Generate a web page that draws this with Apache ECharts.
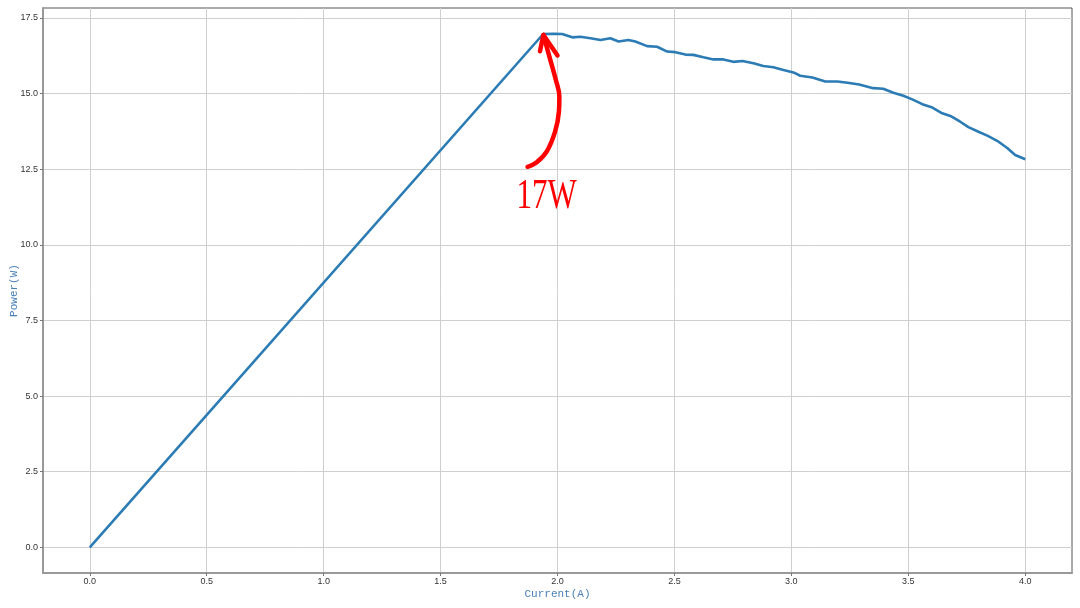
<!DOCTYPE html>
<html>
<head>
<meta charset="utf-8">
<script src="https://cdn.jsdelivr.net/npm/echarts@6/dist/echarts.min.js"></script>
<style>html,body{margin:0;padding:0;background:#fff}#c{width:1080px;height:608px}</style>
</head>
<body>
<div id="c"></div>
<script>
// Current (A)
var currentA = [0, 1.939, 1.983, 2.020, 2.063, 2.098, 2.141, 2.184, 2.226, 2.261, 2.303, 2.333, 2.383, 2.426, 2.469, 2.504, 2.547, 2.581, 2.624, 2.667, 2.709, 2.752, 2.791, 2.838, 2.880, 2.923, 2.966, 3.009, 3.038, 3.090, 3.145, 3.197, 3.240, 3.290, 3.350, 3.393, 3.436, 3.479, 3.517, 3.560, 3.603, 3.645, 3.680, 3.722, 3.757, 3.800, 3.838, 3.880, 3.923, 3.957, 4.000];
// Power (W)
var powerW = [0, 16.97, 16.98, 16.97, 16.86, 16.88, 16.83, 16.77, 16.83, 16.72, 16.77, 16.72, 16.57, 16.55, 16.39, 16.37, 16.29, 16.28, 16.20, 16.13, 16.13, 16.05, 16.08, 16.00, 15.91, 15.87, 15.78, 15.70, 15.59, 15.53, 15.40, 15.40, 15.36, 15.30, 15.18, 15.16, 15.03, 14.93, 14.81, 14.65, 14.54, 14.35, 14.26, 14.07, 13.89, 13.74, 13.61, 13.44, 13.20, 12.97, 12.83];
var xTicks = [0, 0.5, 1.0, 1.5, 2.0, 2.5, 3.0, 3.5, 4.0];
var yTicks = [0, 2.5, 5.0, 7.5, 10.0, 12.5, 15.0, 17.5];
// hand-drawn annotation arrow (data coordinates)
var arrowShaftX = [1.872, 1.910, 1.955, 1.990, 2.006, 2.008, 1.993, 1.968, 1.940];
var arrowShaftY = [12.58, 12.72, 13.10, 13.75, 14.40, 14.90, 15.45, 16.15, 16.94];
var arrowHeadX = [1.925, 1.940, 2.000];
var arrowHeadY = [16.40, 16.94, 16.26];
var annotText = '17W';
var annotPos = [1.953, 11.59];

function zip(a, b) { return a.map(function (v, i) { return [v, b[i]]; }); }

var chart = echarts.init(document.getElementById('c'));
var gridCol = '#cfcfcf';
var option = {
  animation: false,
  grid: { left: 43, right: 8, top: 8, bottom: 35, outerBoundsMode: 'none', containLabel: false,
    show: true, borderColor: '#555', borderWidth: 1 },
  xAxis: {
    type: 'value', min: -0.2, max: 4.2,
    name: 'Current(A)', nameLocation: 'middle', nameGap: 16, nameMoveOverlap: false,
    nameTextStyle: { color: '#4a7fb5', fontSize: 11, fontFamily: 'Liberation Mono' },
    axisLine: { show: true, onZero: false, lineStyle: { color: '#999', width: 2 } },
    axisTick: { show: true, length: 3, lineStyle: { color: '#777' }, customValues: xTicks },
    axisLabel: { customValues: xTicks, color: '#333', fontSize: 9, margin: 4, fontFamily: 'Liberation Sans',
      formatter: function (v) { return v.toFixed(1); } },
    splitLine: { show: true, lineStyle: { color: gridCol, width: 1 } }
  },
  yAxis: {
    type: 'value', min: -0.85, max: 17.83,
    name: 'Power(W)', nameLocation: 'middle', nameGap: 23, nameMoveOverlap: false,
    nameTextStyle: { color: '#4a7fb5', fontSize: 11, fontFamily: 'Liberation Mono' },
    axisLine: { show: true, onZero: false, lineStyle: { color: '#999', width: 2 } },
    axisTick: { show: true, length: 3, lineStyle: { color: '#777' }, customValues: yTicks },
    axisLabel: { customValues: yTicks, color: '#333', fontSize: 9, margin: 5, fontFamily: 'Liberation Sans',
      formatter: function (v) { return v.toFixed(1); } },
    splitLine: { show: true, lineStyle: { color: gridCol, width: 1 } }
  },
  series: [
    {
      type: 'line', data: zip(currentA, powerW), showSymbol: false, silent: true,
      lineStyle: { color: '#2b7bb4', width: 2.6 }, z: 3
    },
    {
      type: 'line', data: zip(arrowShaftX, arrowShaftY), smooth: 0.4, showSymbol: false, silent: true,
      lineStyle: { color: '#ff0000', width: 4.5, cap: 'round' }, z: 4
    },
    {
      type: 'line', data: zip(arrowHeadX, arrowHeadY), showSymbol: false, silent: true,
      lineStyle: { color: '#ff0000', width: 4.5, cap: 'round', join: 'round' }, z: 4
    }
  ]
};
chart.setOption(option);
var p = chart.convertToPixel({ gridIndex: 0 }, annotPos);
chart.setOption({
  graphic: [{
    type: 'text', x: p[0], y: p[1], scaleX: 0.72, z: 10,
    style: { text: annotText, fill: '#ff0000', font: '43px "Liberation Serif"', align: 'center', verticalAlign: 'middle' }
  }]
});
</script>
</body>
</html>
